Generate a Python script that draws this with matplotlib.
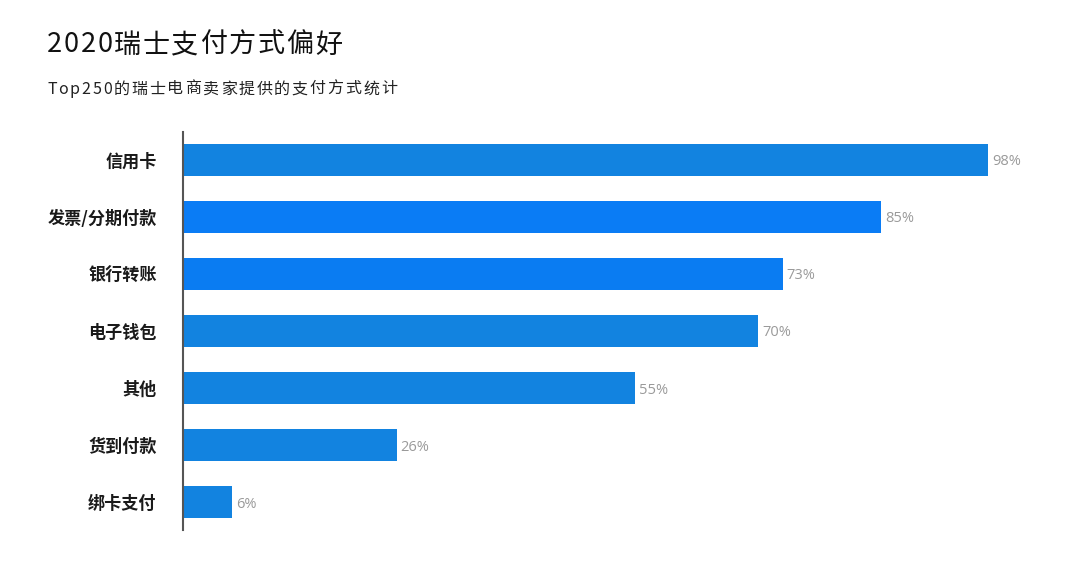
import matplotlib.pyplot as plt

plt.rcParams['font.family'] = ['Noto Sans CJK SC', 'DejaVu Sans']

categories = ['信用卡', '发票/分期付款', '银行转账', '电子钱包', '其他', '货到付款', '绑卡支付']
values = [98, 85, 73, 70, 55, 26, 6]
bar_colors = ['#1283e0', '#0a7cf5', '#0a7cf2', '#1283e0', '#1283e0', '#1283e0', '#1283e0']

title = '2020瑞士支付方式偏好'
subtitle = 'Top250的瑞士电商卖家提供的支付方式统计'

W, H = 1080, 571
fig = plt.figure(figsize=(W / 100, H / 100), dpi=100)


def spaced_text(x_px, y_px, s, size, track, color='#111111', weight='normal'):
    # draw characters one by one to get the wide letter spacing of the original
    renderer = fig.canvas.get_renderer()
    x = x_px
    for ch in s:
        t = fig.text(x / W, 1 - y_px / H, ch, fontsize=size, color=color,
                     fontweight=weight, va='center', ha='left')
        w = t.get_window_extent(renderer).width
        x += w + track


spaced_text(47, 45, title, 19.5, 1.6)
spaced_text(47, 89, subtitle, 11.5, 1.8, color='#222222')

ax = fig.add_axes([183 / W, 1 - 530 / H, (1060 - 183) / W, (530 - 132) / H])
y = list(range(len(categories)))
ax.barh(y, values, height=0.56, color=bar_colors)

scale = 805 / 98  # px per percent
ax.set_xlim(0, (1060 - 183) / scale)
ax.set_ylim(len(categories) - 0.51, -0.49)

for yi, v in zip(y, values):
    ax.text(v + 4 / scale, yi, f'{v}%', va='center_baseline', ha='left', fontsize=10.5,
            color='#9a9a9a', family=['Open Sans', 'DejaVu Sans'])

ax.set_yticks(y)
ax.set_yticklabels(categories, fontsize=12.3, fontweight='bold', color='#1a1a1a')
ax.tick_params(axis='y', length=0, pad=19)
ax.set_xticks([])
for side in ['top', 'right', 'bottom']:
    ax.spines[side].set_visible(False)
ax.spines['left'].set_color('#555555')
ax.spines['left'].set_linewidth(1.5)

fig.savefig('out.png', dpi=100)
